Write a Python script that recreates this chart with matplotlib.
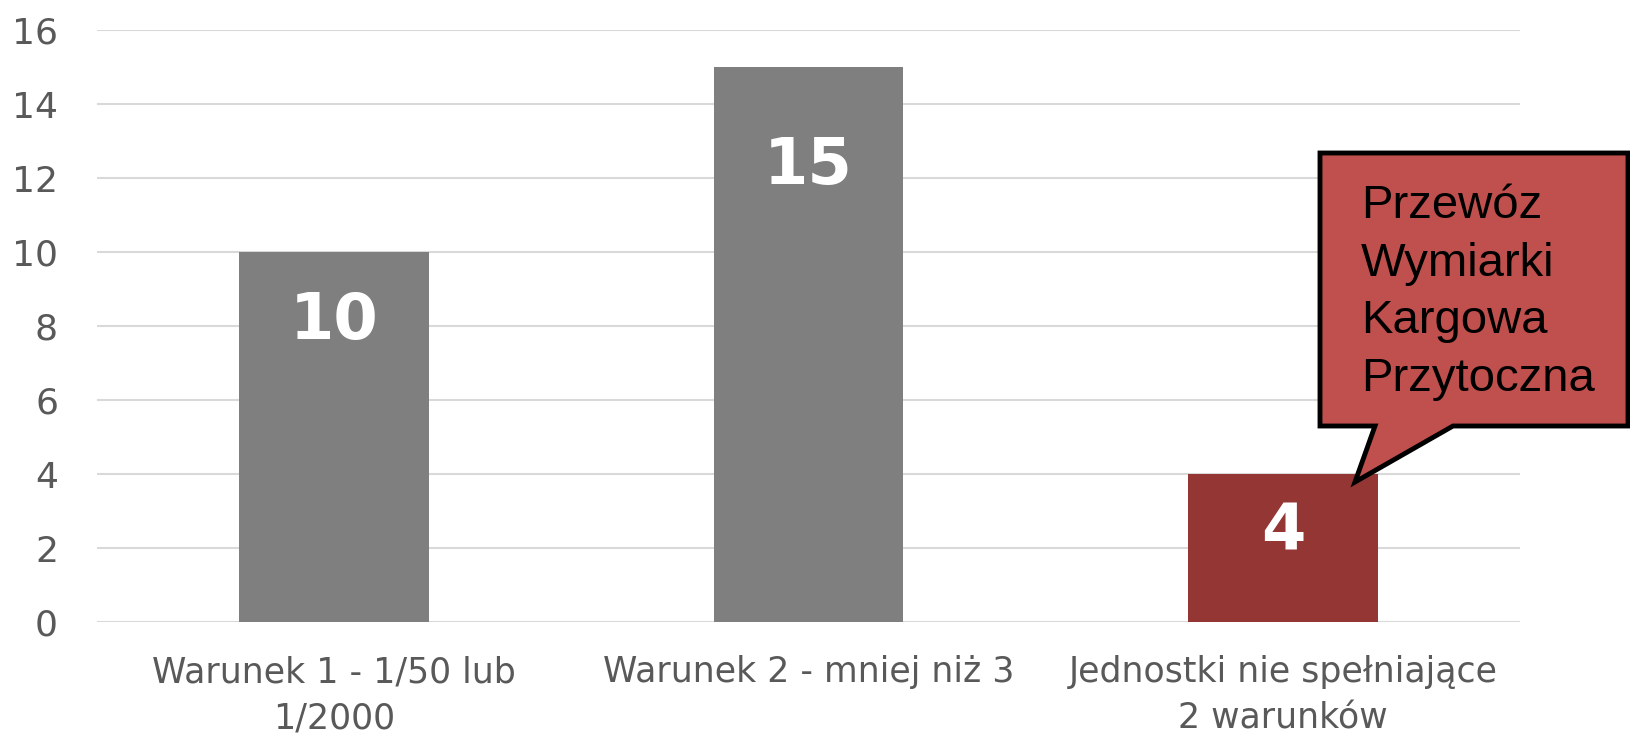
import numpy as np
import matplotlib.pyplot as plt
from matplotlib.patches import Polygon

# data
categories = ["Warunek 1 - 1/50 lub\n1/2000", "Warunek 2 - mniej niż 3",
              "Jednostki nie spełniające\n2 warunków"]
values = [10, 15, 4]
callout_lines = ["Przewóz", "Wymiarki", "Kargowa", "Przytoczna"]
yticks = [0, 2, 4, 6, 8, 10, 12, 14, 16]

# style
bar_colors = ["#7F7F7F", "#7F7F7F", "#943634"]
label_offsets = [-50, -71, -42]   # points below bar top
W, H = 1630, 733

fig = plt.figure(figsize=(W / 100, H / 100), dpi=100)
ax = fig.add_axes([97 / W, 1 - 622 / H, (1520 - 97) / W, (622 - 30) / H])

x = np.arange(len(values))
bars = ax.bar(x, values, width=0.4, color=bar_colors, zorder=2)

for b, v, off in zip(bars, values, label_offsets):
    ax.annotate(str(v), (b.get_x() + b.get_width() / 2, v),
                xytext=(0, off), textcoords="offset points",
                ha="center", va="center", color="white",
                fontsize=46, fontweight="bold", zorder=3)

ax.set_xlim(-0.5, 2.5)
ax.set_ylim(0, 16)
ax.set_yticks(yticks)
ax.set_xticks(x)
ax.set_xticklabels(categories, fontsize=25, color="#595959", linespacing=1.45)
ax.tick_params(axis="y", labelsize=26, labelcolor="#595959", length=0, pad=28)
ax.tick_params(axis="x", length=0, pad=24)
ax.grid(axis="y", color="#D9D9D9", linewidth=1.5, zorder=0)
for s in ax.spines.values():
    s.set_visible(False)

# callout box (figure pixel coordinates)
pts = np.array([[1320, 153], [1628, 153], [1628, 426], [1453, 426],
                [1355, 482], [1375, 426], [1320, 426]], dtype=float)
pts[:, 0] /= W
pts[:, 1] = 1 - pts[:, 1] / H
fig.patches.append(Polygon(pts, closed=True, facecolor="#C0504D",
                           edgecolor="black", linewidth=3.5,
                           joinstyle="miter", transform=fig.transFigure))
fig.text(1361 / W, 1 - 184 / H, "\n".join(callout_lines),
         family="Liberation Sans", fontsize=34, color="black",
         ha="left", va="top", linespacing=1.4)

fig.savefig("out.png", dpi=100)
